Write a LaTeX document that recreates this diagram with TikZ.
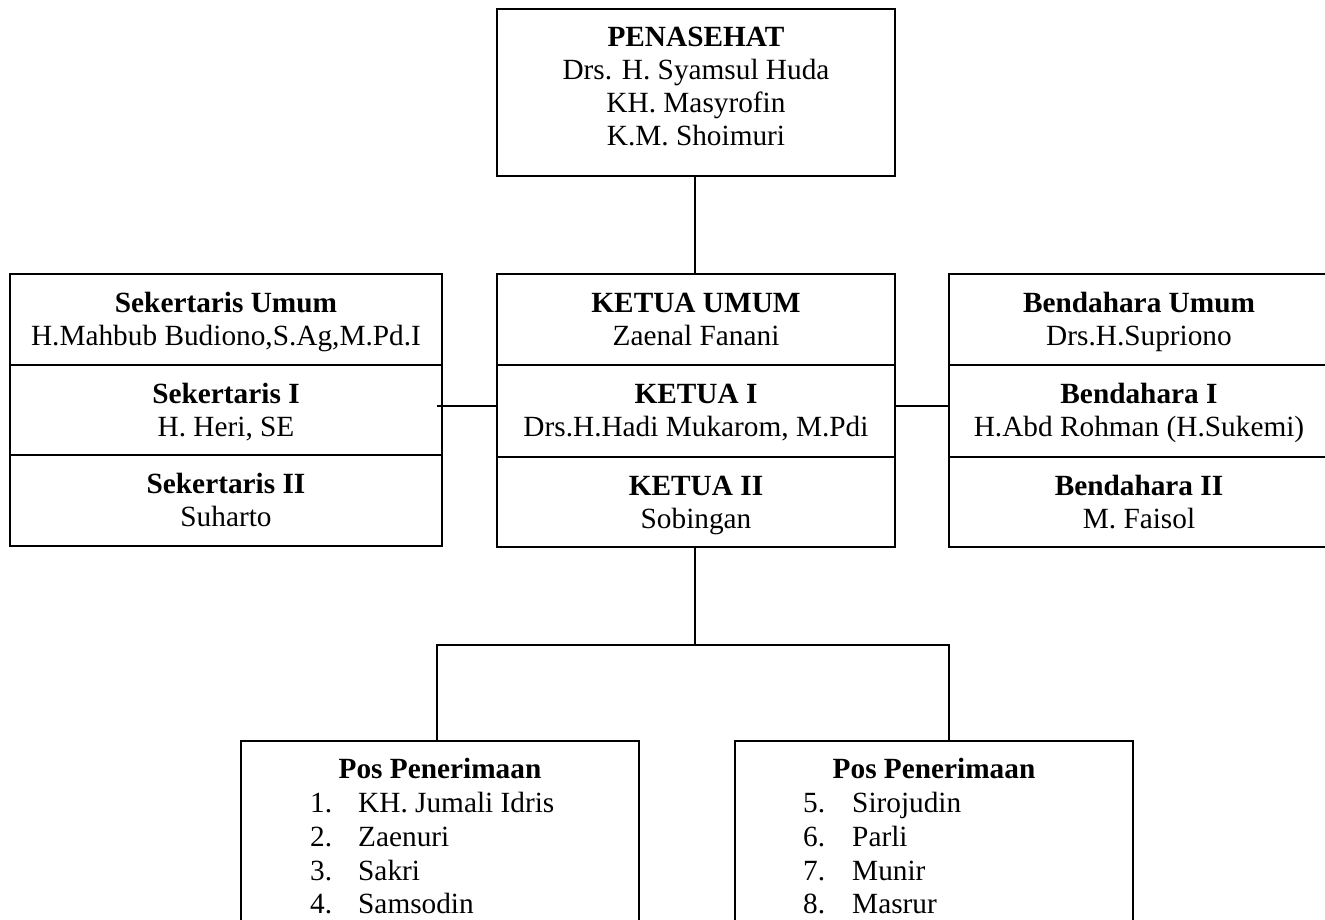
\documentclass[tikz,border=0pt]{standalone}
\usepackage{fontspec}
\setmainfont{Liberation Serif}
\tikzset{
  cell/.style={draw, line width=1.6pt, inner sep=0pt, outer sep=0pt},
  txt/.style={inner sep=0pt, anchor=base, font=\fontsize{29.3}{34}\selectfont},
  txtw/.style={inner sep=0pt, anchor=base west, font=\fontsize{29.3}{34}\selectfont},
  conn/.style={line width=1.6pt}
}
\newcommand\orgsect[7]{%
  \node[cell, minimum width={#4-#2}, minimum height={#5-#3}, anchor=north west] (#1) at (#2,#3) {};
  \node[txt] (#1-a) at ([yshift=-38pt]#1.north) {\textbf{#6}};
  \node[txt] (#1-b) at ([yshift=-71pt]#1.north) {#7};
}
\begin{document}
\begin{tikzpicture}[x=1pt,y=-1pt]
\useasboundingbox (0,0) rectangle (1325,920);
% Penasehat
\node[cell, minimum width=398, minimum height=167, anchor=north west] (pen) at (497,9) {};
\node[txt] (pen-a) at ([yshift=-38pt]pen.north) {\textbf{PENASEHAT}};
\node[txt] (pen-b) at ([yshift=-71pt]pen.north) {Drs. H. Syamsul Huda};
\node[txt] (pen-c) at ([yshift=-104pt]pen.north) {KH. Masyrofin};
\node[txt] (pen-d) at ([yshift=-137pt]pen.north) {K.M. Shoimuri};
% left column
\orgsect{seku}{10}{274}{442}{365}{Sekertaris Umum}{H.Mahbub Budiono,S.Ag,M.Pd.I}
\orgsect{sekA}{10}{365}{442}{455}{Sekertaris I}{H. Heri, SE}
\orgsect{sekB}{10}{455}{442}{546}{Sekertaris II}{Suharto}
% centre column
\orgsect{ketu}{497}{274}{895}{365}{KETUA UMUM}{Zaenal Fanani}
\orgsect{ketA}{497}{365}{895}{457}{KETUA I}{Drs.H.Hadi Mukarom, M.Pdi}
\orgsect{ketB}{497}{457}{895}{547}{KETUA II}{Sobingan}
% right column
\orgsect{benu}{949}{274}{1329}{365}{Bendahara Umum}{Drs.H.Supriono}
\orgsect{benA}{949}{365}{1329}{457}{Bendahara I}{H.Abd Rohman (H.Sukemi)}
\orgsect{benB}{949}{457}{1329}{547}{Bendahara II}{M. Faisol}
% bottom boxes
\node[cell, minimum width=398, minimum height=194, anchor=north west] (posA) at (241,741) {};
\node[txt] (posA-t) at ([yshift=-37pt]posA.north) {\textbf{Pos Penerimaan}};
\node[txtw] (posA-n1) at (310,812) {1.};
\node[txtw] (posA-m1) at (358,812) {KH. Jumali Idris};
\node[txtw] (posA-n2) at (310,846) {2.};
\node[txtw] (posA-m2) at (358,846) {Zaenuri};
\node[txtw] (posA-n3) at (310,880) {3.};
\node[txtw] (posA-m3) at (358,880) {Sakri};
\node[txtw] (posA-n4) at (310,913) {4.};
\node[txtw] (posA-m4) at (358,913) {Samsodin};
\node[cell, minimum width=398, minimum height=194, anchor=north west] (posB) at (735,741) {};
\node[txt] (posB-t) at ([yshift=-37pt]posB.north) {\textbf{Pos Penerimaan}};
\node[txtw] (posB-n1) at (803,812) {5.};
\node[txtw] (posB-m1) at (852,812) {Sirojudin};
\node[txtw] (posB-n2) at (803,846) {6.};
\node[txtw] (posB-m2) at (852,846) {Parli};
\node[txtw] (posB-n3) at (803,880) {7.};
\node[txtw] (posB-m3) at (852,880) {Munir};
\node[txtw] (posB-n4) at (803,913) {8.};
\node[txtw] (posB-m4) at (852,913) {Masrur};
% connectors
\coordinate (junc) at (695,645);
\coordinate (row) at (437,406);
\coordinate (dropL) at (437,645);
\coordinate (dropR) at (949,645);
\draw[conn] (junc |- pen.south) -- (junc |- ketu.north);
\draw[conn] (row) -- (ketA.west |- row);
\draw[conn] (ketA.east |- row) -- (benA.west |- row);
\draw[conn] (junc |- ketB.south) -- (junc);
\draw[conn] (dropL |- posA.north) -- (dropL) -- (dropR) -- (dropR |- posB.north);
\end{tikzpicture}
\end{document}
